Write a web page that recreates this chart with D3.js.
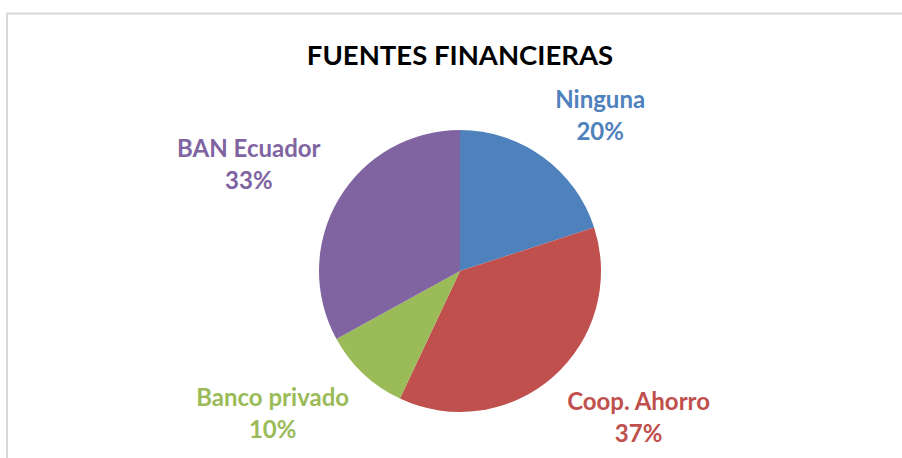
<!DOCTYPE html>
<html>
<head>
<meta charset="UTF-8">
<script src="https://d3js.org/d3.v7.min.js"></script>
<style>
  body { margin: 0; background: #fff; }
  text { font-family: Lato, "Open Sans", sans-serif; font-weight: bold; }
</style>
</head>
<body>
<div id="chart"></div>
<script>
    // data
    const categories = ["Ninguna", "Coop. Ahorro", "Banco privado", "BAN Ecuador"];
    const percents = [20, 37, 10, 33];
    const colors = ["#4F81BD", "#C0504D", "#9BBB59", "#8064A2"];
    const title = "FUENTES FINANCIERAS";

    const width = 902, height = 458;
    const cx = 460, cy = 271, radius = 141;

    const svg = d3.select("#chart")
        .append("svg")
        .attr("width", width)
        .attr("height", height);

    // chart area border (runs off the right and bottom edge)
    svg.append("rect")
        .attr("x", 7)
        .attr("y", 13.5)
        .attr("width", width + 20)
        .attr("height", height + 20)
        .attr("fill", "#fff")
        .attr("stroke", "#d9d9d9")
        .attr("stroke-width", 2);

    svg.append("text")
        .attr("x", cx)
        .attr("y", 65)
        .attr("text-anchor", "middle")
        .style("font-size", "27.5px")
        .attr("fill", "#000")
        .text(title);

    const data = categories.map((c, i) => ({name: c, value: percents[i], color: colors[i]}));

    const pie = d3.pie()
        .value(d => d.value)
        .sort(null);

    const arc = d3.arc()
        .innerRadius(0)
        .outerRadius(radius);

    const g = svg.append("g")
        .attr("transform", `translate(${cx},${cy})`);

    const arcs = pie(data);

    g.selectAll("path")
        .data(arcs)
        .join("path")
        .attr("d", arc)
        .attr("fill", d => d.data.color);

    // labels outside the end of each slice
    const labelR = radius + 21;
    const lineGap = 32, capH = 17;

    g.selectAll("text.lbl")
        .data(arcs)
        .join("text")
        .attr("class", "lbl")
        .attr("fill", d => d.data.color)
        .style("font-size", "24px")
        .each(function(d) {
            const a = (d.startAngle + d.endAngle) / 2;
            const px = Math.sin(a) * labelR;
            const py = -Math.cos(a) * labelR;
            const right = Math.sin(a) >= 0;
            const upper = Math.cos(a) >= 0;
            const y1 = upper ? py - lineGap : py + capH;
            const t = d3.select(this);
            const s1 = t.append("tspan")
                .attr("y", y1)
                .text(d.data.name);
            const s2 = t.append("tspan")
                .attr("y", y1 + lineGap)
                .text(d.data.value + "%");
            const w = Math.max(s1.node().getComputedTextLength(), s2.node().getComputedTextLength());
            const mid = right ? px + w / 2 : px - w / 2;
            t.selectAll("tspan")
                .attr("x", mid)
                .attr("text-anchor", "middle");
        });
</script>
</body>
</html>
